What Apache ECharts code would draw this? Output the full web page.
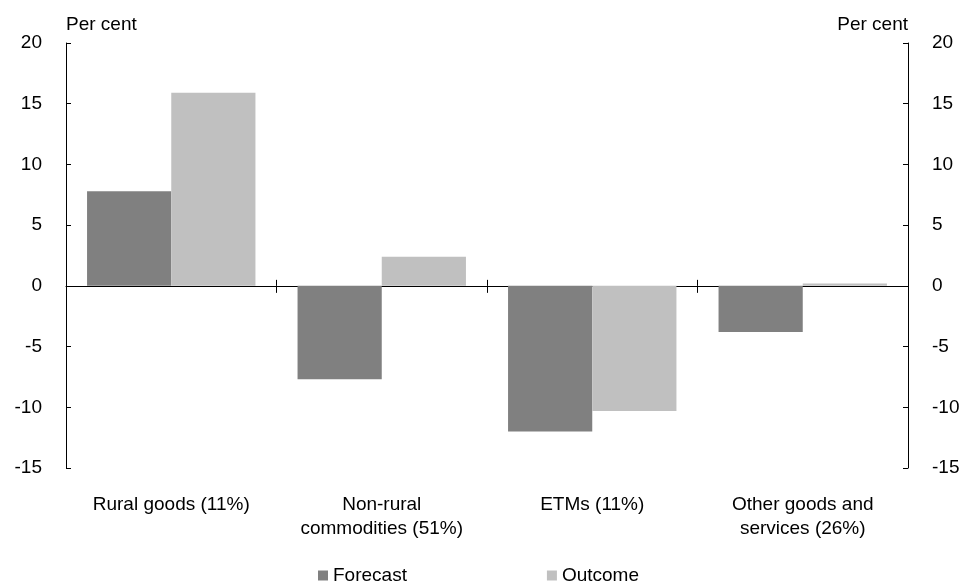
<!DOCTYPE html>
<html>
<head>
<meta charset="utf-8">
<script src="https://cdn.jsdelivr.net/npm/echarts@6/dist/echarts.min.js"></script>
<style>
  html, body { margin: 0; padding: 0; background: #fff; }
  #chart { width: 963px; height: 581px; }
</style>
</head>
<body>
<div id="chart"></div>
<script>
// Export price changes by component: forecast vs outcome (per cent)
const categories = [
  'Rural goods (11%)',
  'Non-rural\ncommodities (51%)',
  'ETMs (11%)',
  'Other goods and\nservices (26%)'
];
const forecast = [7.8, -7.7, -12.0, -3.8];
const outcome = [15.9, 2.4, -10.3, 0.2];
const yTicks = { min: -15, max: 20, step: 5 };

const FONT = 'Liberation Sans, Arial, sans-serif';
const FS = 19;
const chart = echarts.init(document.getElementById('chart'));

const yAxisBase = {
  type: 'value',
  min: yTicks.min,
  max: yTicks.max,
  interval: yTicks.step,
  splitLine: { show: false },
  axisLine: { show: true, onZero: false, lineStyle: { color: '#000', width: 1 } },
  axisTick: { show: true, inside: true, length: 5, lineStyle: { color: '#000' } },
  axisLabel: { color: '#000', fontSize: FS, fontFamily: FONT, margin: 24 },
  nameTextStyle: { color: '#000', fontSize: FS, fontFamily: FONT }
};

chart.setOption({
  animation: false,
  grid: { left: 66, right: 55, top: 43, bottom: 113, containLabel: false },
  legend: {
    data: ['Forecast', 'Outcome'],
    left: 313,
    top: 561,
    itemWidth: 10,
    itemHeight: 10,
    itemGap: 140,
    icon: 'rect',
    textStyle: { color: '#000', fontSize: FS, fontFamily: FONT, padding: [0, 0, 0, 0] }
  },
  xAxis: [
    {
      // category labels along the bottom
      type: 'category',
      data: categories,
      position: 'bottom',
      axisLine: { show: false, onZero: false },
      axisTick: { show: false },
      axisLabel: {
        color: '#000', fontSize: FS, fontFamily: FONT,
        lineHeight: 24, margin: 25, interval: 0
      }
    },
    {
      // zero line with ticks below it
      type: 'category',
      data: categories,
      position: 'bottom',
      axisLine: { show: true, onZero: true, lineStyle: { color: '#000', width: 1 } },
      axisTick: { show: true, length: 7, lineStyle: { color: '#000' } },
      axisLabel: { show: false }
    },
    {
      // tick marks above the zero line
      type: 'category',
      data: categories,
      position: 'bottom',
      axisLine: { show: false, onZero: true },
      axisTick: { show: true, inside: true, length: 6, lineStyle: { color: '#000' } },
      axisLabel: { show: false }
    }
  ],
  yAxis: [
    Object.assign({}, yAxisBase, {
      position: 'left',
      name: 'Per cent',
      nameLocation: 'end',
      nameGap: 9,
      nameTextStyle: Object.assign({}, yAxisBase.nameTextStyle, { align: 'left', padding: [0, 0, 0, 0] })
    }),
    Object.assign({}, yAxisBase, {
      position: 'right',
      name: 'Per cent',
      nameLocation: 'end',
      nameGap: 9,
      nameTextStyle: Object.assign({}, yAxisBase.nameTextStyle, { align: 'right', padding: [0, 0, 0, 0] })
    })
  ],
  series: [
    {
      name: 'Forecast',
      type: 'bar',
      data: forecast,
      barWidth: '40%',
      barGap: '0%',
      itemStyle: { color: '#808080' }
    },
    {
      name: 'Outcome',
      type: 'bar',
      data: outcome,
      barWidth: '40%',
      barGap: '0%',
      itemStyle: { color: '#c0c0c0' }
    }
  ]
});
</script>
</body>
</html>
